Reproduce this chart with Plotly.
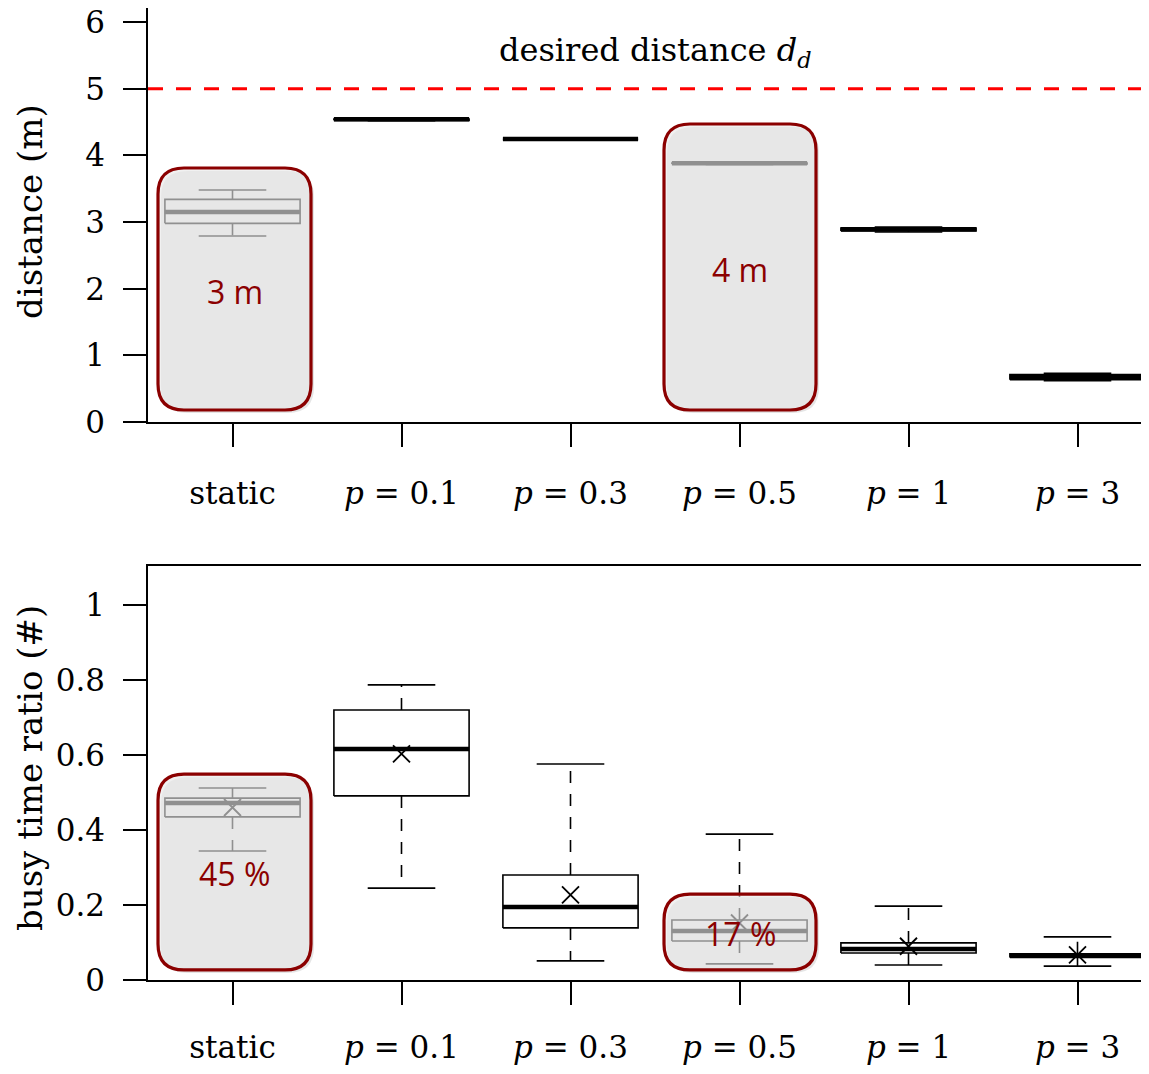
import plotly.graph_objects as go

# ---------------- data ----------------
categories = ["static", "<i>p</i> = 0.1", "<i>p</i> = 0.3", "<i>p</i> = 0.5", "<i>p</i> = 1", "<i>p</i> = 3"]

# distance (m): lower whisker, q1, median, q3, upper whisker
dist_low = [2.79, 4.52, 4.235, 3.865, 2.85, 0.62]
dist_q1 = [2.98, 4.525, 4.24, 3.87, 2.865, 0.635]
dist_med = [3.15, 4.54, 4.245, 3.88, 2.89, 0.67]
dist_q3 = [3.34, 4.545, 4.25, 3.885, 2.91, 0.71]
dist_up = [3.48, 4.555, 4.255, 3.89, 2.925, 0.73]

# busy time ratio
busy_low = [0.344, 0.245, 0.051, 0.043, 0.040, 0.037]
busy_q1 = [0.435, 0.491, 0.139, 0.104, 0.072, 0.060]
busy_med = [0.472, 0.616, 0.195, 0.131, 0.083, 0.065]
busy_q3 = [0.485, 0.720, 0.280, 0.160, 0.099, 0.070]
busy_up = [0.512, 0.787, 0.576, 0.389, 0.197, 0.115]
busy_mean = [0.460, 0.603, 0.227, 0.152, 0.090, 0.067]

desired_distance = 5
callout_labels_top = ["3 m", "4 m"]
callout_labels_bottom = ["45 %", "17 %"]

# ---------------- layout constants ----------------
OFF = 8  # page body margin
W, H = 1149 - OFF, 1074 - 2 * OFF
ML, MR, MT, MB = 148 - OFF, 0, 0, 86
PX_PER_CAT = 169.0
plot_w = W - ML - MR
plot_h = H - MT - MB
x_range = [-0.5, -0.5 + plot_w / PX_PER_CAT]
top_range = [0, 6.21]
bot_range = [0, 1.104]
panel_h = 414.0
half_box = 0.4
half_cap = 0.2


def page_y_to_paper(py):
    return (OFF + MT + plot_h - py) / plot_h


def page_x_to_paper(px):
    return (px - OFF - ML) / plot_w


SERIF = "DejaVu Serif"
fig = go.Figure()


def add_boxes(low, q1, med, q3, up, xa, ya, mean=None):
    bx, by, mx, my, wx, wy, cx, cy = [], [], [], [], [], [], [], []
    for i in range(len(categories)):
        bx += [i - half_box, i + half_box, i + half_box, i - half_box, i - half_box, None]
        by += [q1[i], q1[i], q3[i], q3[i], q1[i], None]
        mx += [i - half_box, i + half_box, None]
        my += [med[i], med[i], None]
        wx += [i, i, None, i, i, None]
        wy += [q3[i], up[i], None, q1[i], low[i], None]
        cx += [i - half_cap, i + half_cap, None, i - half_cap, i + half_cap, None]
        cy += [up[i], up[i], None, low[i], low[i], None]
    common = dict(xaxis=xa, yaxis=ya, mode="lines", showlegend=False, hoverinfo="skip")
    fig.add_trace(go.Scatter(x=wx, y=wy, line=dict(color="black", width=1.6, dash="12px,11px"), **common))
    fig.add_trace(go.Scatter(x=cx, y=cy, line=dict(color="black", width=1.6), **common))
    fig.add_trace(go.Scatter(x=bx, y=by, line=dict(color="black", width=1.6), fill="toself",
                             fillcolor="white", **common))
    fig.add_trace(go.Scatter(x=mx, y=my, line=dict(color="black", width=4.5), **common))
    if mean is not None:
        fig.add_trace(go.Scatter(x=list(range(len(categories))), y=mean, xaxis=xa, yaxis=ya,
                                 mode="markers", showlegend=False, hoverinfo="skip",
                                 marker=dict(symbol="x-thin", size=17,
                                             line=dict(color="black", width=1.8))))


add_boxes(dist_low, dist_q1, dist_med, dist_q3, dist_up, "x", "y")
add_boxes(busy_low, busy_q1, busy_med, busy_q3, busy_up, "x2", "y2", mean=busy_mean)

# desired distance line
fig.add_trace(go.Scatter(x=x_range, y=[desired_distance, desired_distance], xaxis="x", yaxis="y",
                         mode="lines", showlegend=False, hoverinfo="skip",
                         line=dict(color="#ff0000", width=3, dash="15px,13px")))


def rounded_path(x0, x1, y0, y1, rx, ry):
    return (f"M {x0+rx},{y1} L {x1-rx},{y1} Q {x1},{y1} {x1},{y1-ry} "
            f"L {x1},{y0+ry} Q {x1},{y0} {x1-rx},{y0} L {x0+rx},{y0} "
            f"Q {x0},{y0} {x0},{y0+ry} L {x0},{y1-ry} Q {x0},{y1} {x0+rx},{y1} Z")


def px_to_x(px):
    return x_range[0] + (px - OFF - ML) / PX_PER_CAT


r_px = 26
rx = r_px / PX_PER_CAT
ry_top = r_px * (top_range[1] - top_range[0]) / panel_h
ry_bot = r_px * (bot_range[1] - bot_range[0]) / panel_h

callouts = [
    # xref, yref, x0, x1 (page px), y0, y1 (data), ry, label, label_y
    ("x", "y", 158, 311, 0.18, 3.81, ry_top, callout_labels_top[0], 1.96),
    ("x", "y", 664, 816, 0.18, 4.47, ry_top, callout_labels_top[1], 2.29),
    ("x2", "y2", 158, 311, 0.027, 0.549, ry_bot, callout_labels_bottom[0], 0.283),
    ("x2", "y2", 664, 816, 0.027, 0.229, ry_bot, callout_labels_bottom[1], 0.123),
]
shapes = []
annotations = []
for xr, yr, px0, px1, y0, y1, ry, lab, ly in callouts:
    x0, x1 = px_to_x(px0), px_to_x(px1)
    sx = 3 / PX_PER_CAT
    sy = 3 * ry / r_px
    shapes.append(dict(type="path", xref=xr, yref=yr, layer="above",
                       path=rounded_path(x0 + sx, x1 + sx, y0 - sy, y1 - sy, rx, ry),
                       fillcolor="rgba(0,0,0,0.10)", line=dict(width=0)))
    shapes.append(dict(type="path", xref=xr, yref=yr, layer="above",
                       path=rounded_path(x0, x1, y0, y1, rx, ry),
                       fillcolor="rgba(232,232,232,0.62)", line=dict(color="#8b0000", width=3.2)))
    annotations.append(dict(x=(x0 + x1) / 2, y=ly, xref=xr, yref=yr, text=lab, showarrow=False,
                            xanchor="center", yanchor="middle",
                            font=dict(family="Open Sans", size=32, color="#8b0000")))

annotations.append(dict(x=2.5, y=5.55, xref="x", yref="y", showarrow=False,
                        xanchor="center", yanchor="middle",
                        text="desired distance <i>d</i><sub><i>d</i></sub>",
                        font=dict(family=SERIF, size=32, color="black")))
annotations.append(dict(x=page_x_to_paper(30), y=page_y_to_paper(212), xref="paper", yref="paper",
                        xanchor="center", yanchor="middle",
                        text="distance (m)", textangle=-90, showarrow=False,
                        font=dict(family=SERIF, size=34, color="black")))
annotations.append(dict(x=page_x_to_paper(30), y=page_y_to_paper(768), xref="paper", yref="paper",
                        xanchor="center", yanchor="middle",
                        text="busy time ratio (#)", textangle=-90, showarrow=False,
                        font=dict(family=SERIF, size=34, color="black")))

xaxis_common = dict(range=x_range, tickmode="array", tickvals=list(range(len(categories))),
                    ticktext=categories, ticks="outside", ticklen=23, tickwidth=1.5, tickcolor="black",
                    showline=True, linecolor="black", linewidth=1.5, mirror=True, showgrid=False,
                    zeroline=False, ticklabeloverflow="allow",
                    tickfont=dict(family=SERIF, size=31, color="black"))
yaxis_common = dict(ticks="outside", ticklen=23, tickwidth=1.5, tickcolor="black",
                    showline=True, linecolor="black", linewidth=1.5, showgrid=False, zeroline=False,
                    ticklabelstandoff=12, ticklabeloverflow="allow",
                    tickfont=dict(family=SERIF, size=31, color="black"))

fig.update_layout(
    width=W, height=H, margin=dict(l=ML, r=MR, t=MT, b=MB, autoexpand=False),
    paper_bgcolor="white", plot_bgcolor="white",
    xaxis=dict(domain=[0, 1], anchor="y", ticklabelstandoff=20, **xaxis_common),
    yaxis=dict(domain=[page_y_to_paper(422), 1], anchor="x", range=top_range,
               tickvals=[0, 1, 2, 3, 4, 5, 6], **yaxis_common),
    xaxis2=dict(domain=[0, 1], anchor="y2", ticklabelstandoff=16, **xaxis_common),
    yaxis2=dict(domain=[0, page_y_to_paper(566)], anchor="x2", range=bot_range,
                tickvals=[0, 0.2, 0.4, 0.6, 0.8, 1], ticktext=["0", "0.2", "0.4", "0.6", "0.8", "1"],
                **yaxis_common),
    shapes=shapes, annotations=annotations,
)

fig.write_html("out.html")
